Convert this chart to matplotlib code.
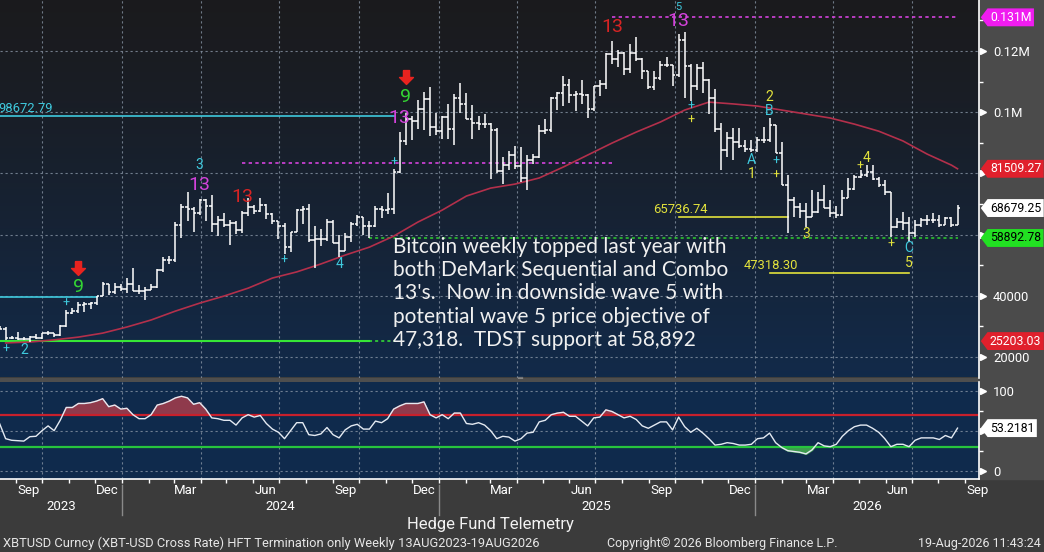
import numpy as np
import pandas as pd
import matplotlib
matplotlib.use("Agg")
from matplotlib import pyplot as plt
from matplotlib import font_manager
import matplotlib.dates as mdates
from matplotlib.path import Path
from matplotlib.patches import Rectangle
from matplotlib.transforms import blended_transform_factory, ScaledTranslation

names = {f.name for f in font_manager.fontManager.ttflist}
NARROW = "Liberation Sans Narrow" if "Liberation Sans Narrow" in names else "Roboto"
NSIZE = 10.5 if NARROW != "Roboto" else 8.8
plt.rcParams["font.family"] = ["Roboto", "DejaVu Sans"]

# ---------------- data (weekly bars, prices in thousands) ----------------
dates = pd.date_range("2023-08-13", periods=159, freq="7D")

opens = [29.4, 29.3, 26.1, 26.1, 25.9, 25.8, 26.5, 26.3, 27.9, 27.9, 27.2, 30.0, 34.5, 35.0, 37.1, 37.4,
         37.5, 39.9, 43.8, 41.4, 43.0, 42.3, 43.9, 41.7, 41.6, 42.0, 43.0, 48.3, 51.7, 51.7, 63.1, 68.9,
         68.4, 67.2, 71.3, 69.3, 63.4, 64.9, 63.1, 63.9, 61.5, 66.9, 69.0, 67.8, 69.6, 66.6, 64.3, 62.7,
         55.9, 60.8, 68.2, 68.3, 58.1, 58.7, 58.4, 64.2, 57.3, 54.8, 59.1, 63.6, 65.6, 62.8, 62.9, 68.4,
         67.9, 68.4, 80.4, 90.6, 97.9, 97.0, 101.2, 104.3, 95.2, 93.7, 98.3, 94.5, 104.5, 102.6, 97.9, 96.5,
         96.1, 96.3, 94.3, 80.7, 82.6, 86.1, 82.3, 78.4, 84.5, 85.2, 93.7, 94.3, 104.6, 106.4, 109.0, 105.6,
         105.8, 105.5, 101.0, 108.4, 109.2, 119.1, 117.3, 119.4, 114.2, 119.3, 117.4, 113.5, 108.2, 111.1,
         115.3, 115.3, 112.2, 123.5, 115.2, 108.7, 114.5, 110.6, 104.7, 94.5, 87.5, 91.5, 90.4, 89.0, 88.0,
         87.6, 91.0, 91.0, 95.8, 86.6, 76.2, 71.3, 69.0, 67.8, 65.8, 67.5, 71.3, 68.6, 67.0, 66.4, 72.0,
         75.0, 78.9, 79.5, 80.6, 78.3, 76.2, 74.0, 62.6, 64.2, 63.7, 60.5, 63.1, 64.8, 64.8, 64.8, 63.1,
         65.3, 63.1]
highs = [30.2, 29.7, 26.8, 28.1, 26.4, 27.0, 27.4, 28.0, 28.6, 28.0, 30.3, 35.2, 35.9, 37.9, 37.9, 38.0,
         40.0, 44.5, 44.0, 44.3, 43.8, 45.9, 49.0, 43.6, 42.8, 43.9, 48.6, 52.8, 52.9, 64.0, 70.1, 73.8,
         68.9, 71.6, 71.5, 72.8, 66.0, 67.2, 64.7, 64.4, 67.7, 71.9, 69.6, 71.9, 70.0, 67.2, 64.5, 63.8,
         61.0, 68.4, 69.4, 70.0, 62.7, 61.8, 65.0, 64.9, 59.8, 60.6, 64.1, 66.5, 65.6, 64.5, 69.4, 69.5,
         73.6, 81.5, 93.5, 99.6, 98.7, 104.0, 106.5, 108.3, 99.9, 98.9, 102.7, 106.0, 109.6, 106.4, 102.5,
         98.8, 99.5, 96.5, 95.0, 85.3, 87.4, 88.8, 88.5, 86.1, 86.4, 95.8, 97.9, 104.9, 106.6, 111.9, 110.7,
         106.8, 110.5, 106.0, 108.5, 110.5, 119.5, 123.2, 120.2, 119.8, 122.3, 124.5, 117.6, 113.5, 113.4,
         116.6, 117.9, 115.4, 125.7, 126.2, 115.9, 115.9, 116.4, 111.0, 107.5, 96.4, 93.6, 94.8, 94.7, 90.9,
         90.9, 92.0, 95.3, 98.0, 95.8, 90.4, 79.5, 72.4, 70.3, 70.3, 74.6, 74.0, 76.2, 71.3, 69.5, 74.6,
         78.4, 79.5, 81.1, 82.7, 82.7, 78.9, 77.8, 74.0, 65.3, 67.5, 65.8, 64.8, 65.3, 66.4, 67.0, 66.4,
         65.8, 65.8, 69.7]
lows = [29.0, 25.4, 25.8, 25.4, 25.4, 24.9, 26.0, 26.0, 27.2, 26.5, 26.9, 29.7, 33.9, 34.5, 34.8, 35.7,
        37.0, 39.8, 40.2, 40.6, 41.5, 40.8, 41.5, 40.6, 38.5, 41.9, 42.5, 47.7, 50.5, 50.9, 59.0, 64.5,
        60.8, 66.5, 64.5, 61.0, 59.7, 62.5, 56.5, 60.2, 60.6, 66.0, 66.7, 67.5, 65.0, 63.4, 58.5, 53.5,
        54.3, 60.7, 63.5, 57.7, 49.1, 56.2, 57.8, 57.2, 52.6, 54.6, 57.5, 62.8, 59.8, 58.9, 62.5, 65.5,
        66.8, 66.8, 80.0, 89.4, 90.9, 94.5, 94.2, 92.2, 92.5, 91.2, 91.2, 89.3, 99.6, 97.8, 91.2, 94.1,
        94.9, 78.2, 80.0, 76.6, 81.2, 81.6, 77.1, 74.5, 83.0, 85.0, 92.8, 93.4, 100.8, 102.0, 103.1, 100.4,
        102.8, 98.2, 100.4, 105.2, 107.5, 115.7, 114.7, 112.0, 112.7, 116.8, 110.7, 107.5, 107.3, 110.6,
        114.8, 108.7, 111.6, 104.5, 103.5, 107.4, 106.3, 99.5, 93.6, 81.1, 85.5, 84.4, 88.2, 87.1, 87.0,
        87.0, 90.0, 90.4, 86.6, 76.2, 60.4, 65.8, 65.4, 62.6, 65.8, 67.0, 68.6, 65.8, 65.4, 66.0, 72.0,
        74.6, 78.5, 78.9, 77.8, 75.6, 72.9, 59.3, 62.0, 61.5, 57.7, 59.3, 62.6, 63.1, 63.7, 62.6, 63.0,
        62.6, 63.1]
closes = [29.3, 26.1, 26.1, 25.9, 25.8, 26.5, 26.3, 27.9, 27.9, 27.2, 30.0, 34.5, 35.0, 37.1, 37.4, 37.5,
          39.9, 43.8, 41.4, 43.0, 42.3, 43.9, 41.7, 41.6, 42.0, 43.0, 48.3, 51.7, 51.7, 63.1, 68.9, 68.4,
          67.2, 71.3, 69.3, 63.4, 64.9, 63.1, 63.9, 61.5, 66.9, 69.0, 67.8, 69.6, 66.6, 64.3, 62.7, 55.9,
          60.8, 68.2, 68.3, 58.1, 58.7, 58.4, 64.2, 57.3, 54.8, 59.1, 63.6, 65.6, 62.8, 62.9, 68.4, 67.9,
          68.4, 80.4, 90.6, 97.9, 97.0, 101.2, 104.3, 95.2, 93.7, 98.3, 94.5, 104.5, 102.6, 97.9, 96.5, 96.1,
          96.3, 94.3, 80.7, 82.6, 86.1, 82.3, 78.4, 84.5, 85.2, 93.7, 94.3, 104.6, 106.4, 109.0, 105.6, 105.8,
          105.5, 101.0, 108.4, 109.2, 119.1, 117.3, 119.4, 114.2, 119.3, 117.4, 113.5, 108.2, 111.1, 115.3,
          115.3, 112.2, 123.5, 115.2, 108.7, 114.5, 110.6, 104.7, 94.5, 87.5, 91.5, 90.4, 89.0, 88.0, 87.6,
          91.0, 91.0, 95.8, 86.6, 76.2, 71.3, 69.0, 67.8, 65.8, 67.5, 71.3, 68.6, 67.0, 66.4, 72.0, 75.0,
          78.9, 79.5, 80.6, 78.3, 76.2, 74.0, 62.6, 64.2, 63.7, 60.5, 63.1, 64.8, 64.8, 64.8, 63.1, 65.3,
          63.1, 68.67925]

# 50-week moving average, read every 4th bar (+ last bar)
ma_bars = list(range(1, 158, 4)) + [158]
ma_vals = [24.6, 24.9, 25.6, 26.5, 27.8, 29.8, 32.1, 35.0, 37.6, 39.9, 42.5, 45.8, 47.8, 50.4, 53.3,
           55.9, 59.5, 64.1, 68.0, 72.6, 75.2, 76.5, 78.5, 82.1, 86.0, 89.9, 93.5, 96.8, 100.7, 103.3,
           102.7, 102.0, 100.7, 99.4, 98.1, 96.1, 93.8, 90.6, 86.3, 82.7, 81.50927]

# lower panel oscillator, one value per bar
osc = [59, 40, 38, 37.5, 37, 42.5, 43, 50, 56, 50, 63, 79, 79, 84, 84, 85, 87, 90, 80, 82, 77, 78, 70,
       65, 65, 70, 82, 84, 87, 91, 93, 91, 83, 85, 77, 66, 65, 63, 63, 57, 66, 70, 67, 69, 59, 52, 48,
       40, 50, 60, 60, 45, 44, 46, 54, 45, 41, 51, 56, 58, 52, 52, 62, 60, 65, 77, 81, 84, 84, 84, 86,
       70, 66, 70, 65, 72, 72, 59, 58, 60, 57, 50, 40, 43, 42, 37, 40, 47, 48, 61, 63, 70, 72, 73, 68,
       68, 62, 56, 66, 67, 76, 74, 70, 66, 68, 64, 56, 53, 57, 61, 61, 51, 67, 55, 48, 53, 47, 40, 32,
       33, 35, 34, 32, 32, 33, 40, 41, 47, 35, 29, 25, 24, 23, 21, 26, 35, 31, 30, 33, 43, 50, 55, 57,
       57, 53, 48, 40, 30, 33, 33, 30, 38, 41, 41, 41, 39, 44, 41, 53.2181]
osc_upper, osc_lower = 70, 30

# horizontal levels: value, first bar, last bar
lvl_top13 = (131000, 101, 158)
lvl_mid13 = (83400, 40, 101)
lvl_cyan_hi = (98672.79, 0, 65)
lvl_cyan_lo = (39770, 0, 16)
lvl_green_lo = (25203.03, 0, 61)
lvl_tdst = (58892.78, 61, 158)
lvl_y1 = (65736.74, 112, 130)
lvl_y2 = (47318.30, 127, 150)

month_ticks = ["Sep", "Dec", "Mar", "Jun", "Sep", "Dec", "Mar", "Jun", "Sep", "Dec", "Mar", "Jun", "Sep"]
years = [2023, 2024, 2025, 2026]

note = ("Bitcoin weekly topped last year with\n"
        "both DeMark Sequential and Combo\n"
        "13's.  Now in downside wave 5 with\n"
        "potential wave 5 price objective of\n"
        "47,318.  TDST support at 58,892")

# ---------------- figure ----------------
W, H = 1044, 552
fig = plt.figure(figsize=(W / 100, H / 100), dpi=100, facecolor="#3b3b3b")


def fx(px):
    return px / W


def fy(py):
    return 1 - py / H


fig.patches.append(Rectangle((fx(979), fy(479)), 1 - fx(979), fy(0) - fy(479),
                             transform=fig.transFigure, color="#4b4b4b", zorder=0))
fig.patches.append(Rectangle((0, fy(381.5)), fx(979), fy(377.5) - fy(381.5),
                             transform=fig.transFigure, color="#4e4e4e", zorder=0))
fig.text(fx(520), fy(379.3), "\u2550", color="#9a9a9a", fontsize=6, ha="center", va="center")

pos1 = [0, fy(377.5), fx(979), 377.5 / H]
pos2 = [0, fy(479), fx(979), (479 - 381.5) / H]

# gradient background of price panel
bg = fig.add_axes(pos1, zorder=0)
t = np.linspace(0, 1, 256)[:, None] ** 1.25
c0 = np.array([0.105, 0.105, 0.115])
c1 = np.array([0.07, 0.165, 0.29])
bg.imshow((c0 + (c1 - c0) * t)[:, :, None].transpose(0, 2, 1).repeat(2, axis=1),
          aspect="auto", extent=[0, 1, 0, 1])
bg.set_axis_off()

ax1 = fig.add_axes(pos1, zorder=1)
ax1.patch.set_visible(False)
ax2 = fig.add_axes(pos2, zorder=1)
ax2.set_facecolor("#0f2a4c")

x = mdates.date2num(dates)
xl = (mdates.date2num(pd.Timestamp("2023-08-13 12:00")), mdates.date2num(pd.Timestamp("2026-09-16 19:00")))
k = 1000.0
O = np.array(opens) * k
Hh = np.array(highs) * k
L = np.array(lows) * k
C = np.array(closes) * k

WHITE = "#ffffff"
CYAN = "#3fc9dd"
MAGENTA = "#d442dc"
RED = "#d82424"
GREEN = "#33d433"
YELLOW = "#e2e23c"

# price bars
ax1.vlines(x, L, Hh, color=WHITE, lw=1.1, zorder=3)
ax1.hlines(O, x - 3.2, x, color=WHITE, lw=1.1, zorder=3)
ax1.hlines(C, x, x + 3.2, color=WHITE, lw=1.1, zorder=3)

# moving average
ax1.plot(x[ma_bars], np.array(ma_vals) * k, color="#b3304b", lw=1.2, zorder=2.5)


def level(lv, color, ls, lw):
    v, a, b = lv
    ax1.plot([x[a], x[b]], [v, v], color=color, ls=ls, lw=lw, zorder=2)


dots = (0, (2, 2))
level(lvl_top13, MAGENTA, dots, 1.2)
level(lvl_mid13, MAGENTA, dots, 1.2)
level(lvl_cyan_hi, CYAN, "-", 1.2)
level(lvl_cyan_lo, CYAN, "-", 1.2)
level(lvl_green_lo, "#36e636", "-", 1.5)
ax1.plot([x[lvl_green_lo[2]], x[65]], [lvl_green_lo[0]] * 2, color="#36e636", ls=dots, lw=1.1, zorder=2)
level(lvl_tdst, "#2fcf2f", dots, 1.1)
level(lvl_y1, YELLOW, "-", 1.2)
level(lvl_y2, YELLOW, "-", 1.2)

lab_kw = dict(textcoords="offset pixels", ha="left", va="center", fontsize=NSIZE + 0.6, family=NARROW)
ax1.annotate(f"{lvl_cyan_hi[0]:.2f}", xy=(0, lvl_cyan_hi[0]), xycoords=("axes fraction", "data"),
             xytext=(-2, 8), color=CYAN, **lab_kw)
ax1.annotate(f"{lvl_y1[0]:.2f}", xy=(x[lvl_y1[1]], lvl_y1[0]), xytext=(-26, 8), color=YELLOW, **lab_kw)
ax1.annotate(f"{lvl_y2[0]:.2f}", xy=(x[lvl_y2[1]], lvl_y2[0]), xytext=(-26, 8), color=YELLOW, **lab_kw)

# DeMark / wave labels: bar index (week number), anchor, pixel offset, text, colour, size
marks = [
    (12, "H", 15, "9", GREEN, 14), (10, "H", 7, "+", CYAN, 9), (0, "L", -9, "+", CYAN, 9),
    (3, "L", -10, "2", CYAN, 10), (32, "H", 34, "3", CYAN, 10), (32, "H", 14, "13", MAGENTA, 14),
    (39, "H", 14, "13", RED, 14), (46, "L", -6, "+", CYAN, 9), (55, "L", -7, "4", CYAN, 10),
    (64, "H", 6, "+", CYAN, 9), (65, "H", 14, "13", MAGENTA, 14), (66, "H", 16, "9", GREEN, 14),
    (100, "H", 14, "13", RED, 14), (111, "H", 13, "13", MAGENTA, 14), (111, "H", 27, "5", CYAN, 8),
    (113, "L", -5, "+", CYAN, 9), (113, "L", -19, "+", YELLOW, 9), (123, "L", -8, "A", CYAN, 10),
    (123, "L", -22, "1", YELLOW, 10), (126, "H", 7, "B", CYAN, 10), (126, "H", 21, "2", YELLOW, 10),
    (127, "L", -8, "+", CYAN, 9), (127, "L", -22, "+", YELLOW, 9), (132, "L", -7, "3", YELLOW, 10),
    (141, "H", 4, "+", YELLOW, 9), (142, "H", 7, "4", YELLOW, 10), (146, "L", -8, "+", YELLOW, 9),
    (149, "L", -6, "C", CYAN, 10), (149, "L", -21, "5", YELLOW, 10),
]
for i, anc, dy, txt, col, sz in marks:
    j = i + 1
    yv = Hh[j] if anc == "H" else L[j]
    ax1.annotate(txt, xy=(x[j], yv), xytext=(0, dy), textcoords="offset pixels", ha="center",
                 va="center", color=col, fontsize=sz, zorder=4, annotation_clip=False)

arrow = Path([(-0.22, 0.5), (0.22, 0.5), (0.22, 0.0), (0.5, 0.0), (0.0, -0.5), (-0.5, 0.0),
              (-0.22, 0.0), (-0.22, 0.5)])
for i, dy in [(12, 34), (66, 36)]:
    j = i + 1
    tr = ax1.transData + ScaledTranslation(0, dy / 100, fig.dpi_scale_trans)
    ax1.plot([x[j]], [Hh[j]], marker=arrow, ms=10, color="#e8231f", ls="none", transform=tr, zorder=4)

fig.text(fx(393), fy(237), note, color="#f0f0f0", fontsize=15, family=["Lato", "DejaVu Sans"],
         ha="left", va="top", linespacing=1.2, zorder=6)

# ---------------- lower panel ----------------
ov = np.array(osc)
ax2.plot(x, ov, color="#e4eaf2", lw=1.0, zorder=3)
ax2.fill_between(x, ov, osc_upper, where=ov > osc_upper, interpolate=True, color="#8f3a4c", zorder=2)
ax2.fill_between(x, ov, osc_lower, where=ov < osc_lower, interpolate=True, color="#3e9a4e", zorder=2)
ax2.axhline(osc_upper, color="#c8202c", lw=1.6, zorder=2.5)
ax2.axhline(osc_lower, color="#27c43d", lw=1.6, zorder=2.5)

# ---------------- axes styling ----------------
quarters = mdates.date2num(pd.date_range("2023-10-01", "2026-07-01", freq="QS"))
month_starts = mdates.date2num(pd.date_range("2023-09-01", "2026-09-01", freq="MS"))
grid_kw = dict(color="#8794a4", ls=(0, (2, 2.5)), lw=0.8, alpha=0.8)

ax1.set_xlim(xl)
ax1.set_ylim(13300, 136667)
# 60000 and 80000 sit behind the price tags, as in the original
ax1.set_yticks([20000, 40000, 60000, 80000, 100000, 120000])
ax1.set_yticklabels(["20000", "40000", "", "", "0.1M", "0.12M"])
ax1.set_yticks([30000, 50000, 70000, 90000, 110000, 130000], minor=True)
ax1.set_xticks(quarters)
ax1.set_xticklabels([])
ax1.tick_params(axis="x", length=0)
ax1.grid(True, which="major", **grid_kw)

ax2.set_xlim(xl)
ax2.set_ylim(-10.4, 111.5)
ax2.set_yticks([0, 50, 100])
ax2.set_yticklabels(["0", "", "100"])
ax2.set_yticks([25, 75], minor=True)
ax2.set_xticks(quarters)
ax2.set_xticks(month_starts, minor=True)
ax2.set_xticklabels([])
ax2.tick_params(axis="x", which="both", length=3, color=WHITE, width=1, direction="out")
ax2.grid(True, which="major", **grid_kw)

for ax in (ax1, ax2):
    ax.yaxis.tick_right()
    ax.tick_params(axis="y", which="major", length=0, pad=10, labelcolor=WHITE, labelsize=NSIZE + 0.6,
                   labelfontfamily=NARROW)
    ax.tick_params(axis="y", which="minor", length=3, color=WHITE, width=1)
    for s in ax.spines.values():
        s.set_visible(False)
    ax.spines["right"].set_visible(True)
    ax.spines["right"].set_color(WHITE)
    ax.spines["right"].set_linewidth(1.2)
    bt = blended_transform_factory(ax.transAxes, ax.transData)
    yt = ax.get_yticks()
    ax.plot(np.full(len(yt), 1.004), yt, marker=">", ms=4.5, color=WHITE, ls="none",
            transform=bt, clip_on=False, zorder=5)
ax2.spines["bottom"].set_visible(True)
ax2.spines["bottom"].set_color(WHITE)
ax2.spines["bottom"].set_linewidth(1.2)


def tag_shape(x0, y0, width, height, mutation_size):
    pad = 0.2 * mutation_size
    x0, y0 = x0 - pad, y0 - pad
    width, height = width + 2 * pad, height + 2 * pad
    tip = height * 0.38
    return Path([(x0 - tip, y0 + height / 2), (x0, y0), (x0 + width, y0), (x0 + width, y0 + height),
                 (x0, y0 + height), (x0 - tip, y0 + height / 2)], closed=True)


def tag(ax, value, text, fc, tc):
    ax.annotate(text, xy=(1, value), xycoords=("axes fraction", "data"), xytext=(11, 0),
                textcoords="offset pixels", ha="left", va="center", fontsize=NSIZE, family=NARROW,
                color=tc, bbox=dict(boxstyle=tag_shape, fc=fc, ec="none"), annotation_clip=False,
                zorder=10)


tag(ax1, lvl_top13[0], "0.131M", "#f01cf0", WHITE)
tag(ax1, ma_vals[-1] * k, f"{ma_vals[-1] * k:.2f}", "#e0202c", WHITE)
tag(ax1, C[-1], f"{C[-1]:.2f}", "#ffffff", "#000000")
tag(ax1, lvl_tdst[0], f"{lvl_tdst[0]:.2f}", "#22e022", "#000000")
tag(ax1, lvl_green_lo[0], f"{lvl_green_lo[0]:.2f}", "#e0202c", WHITE)
tag(ax2, ov[-1], f"{ov[-1]:.4f}", "#ffffff", "#000000")

# month and year labels
bt2 = blended_transform_factory(ax2.transData, ax2.transAxes)
mid_months = mdates.date2num(pd.date_range("2023-09-01", periods=13, freq="3MS") + pd.Timedelta(days=14))
for m, lab in zip(mid_months, month_ticks):
    ax2.text(m, -0.115, lab, transform=bt2, ha="center", va="center", color=WHITE, fontsize=9.5,
             clip_on=False)
for yr in years:
    a = max(mdates.date2num(pd.Timestamp(f"{yr}-01-01")), xl[0])
    b = min(mdates.date2num(pd.Timestamp(f"{yr + 1}-01-01")), xl[1])
    ax2.text((a + b) / 2, -0.28, str(yr), transform=bt2, ha="center", va="center", color=WHITE,
             fontsize=9.5, clip_on=False)
    if yr > years[0]:
        ax2.plot([a, a], [-0.06, -0.37], transform=bt2, color="#8a8a8a", lw=1, clip_on=False)

fig.text(fx(490), fy(524), "Hedge Fund Telemetry", color="#f2f2f2", fontsize=12, ha="center", va="center")
foot_kw = dict(color="#e6e6e6", va="center")
fig.text(fx(3), fy(543), "XBTUSD Curncy (XBT-USD Cross Rate) HFT Termination only Weekly 13AUG2023-19AUG2026",
         ha="left", fontsize=9.3, **foot_kw)
fig.text(fx(607), fy(543), "Copyright\u00a9 2026 Bloomberg Finance L.P.", ha="left", fontsize=9, **foot_kw)
fig.text(fx(1041), fy(543), "19-Aug-2026 11:43:24", ha="right", fontsize=9, **foot_kw)

fig.savefig("out.png", dpi=100, facecolor=fig.get_facecolor())
